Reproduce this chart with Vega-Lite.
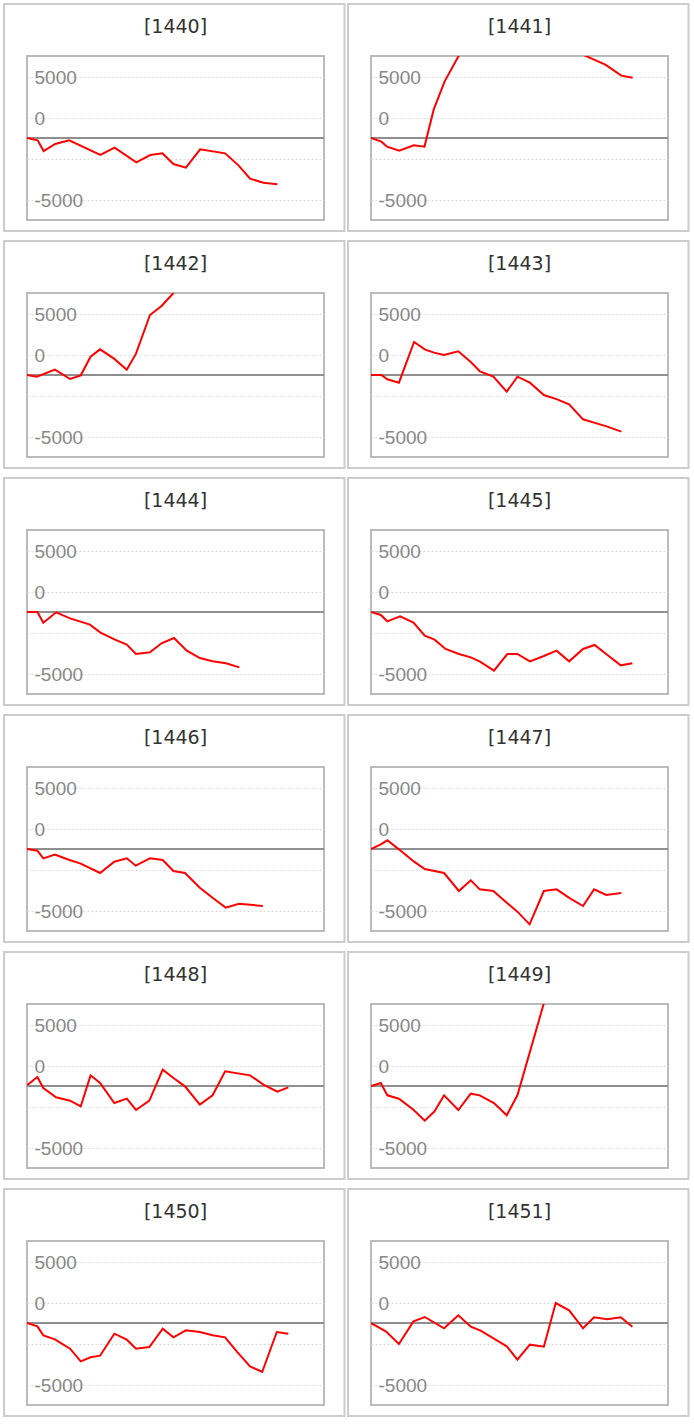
{
  "$schema": "https://vega.github.io/schema/vega-lite/v6.json",
  "background": "white",
  "padding": {"left": 2, "top": 2, "right": 3, "bottom": 3},
  "data": {
    "values": [
      {"id": "[1440]", "t": 0, "v": 0}, {"id": "[1440]", "t": 3.6, "v": -285}, {"id": "[1440]", "t": 5.6, "v": -1585},
      {"id": "[1440]", "t": 9.5, "v": -732}, {"id": "[1440]", "t": 14.2, "v": -285}, {"id": "[1440]", "t": 24.7, "v": -2073},
      {"id": "[1440]", "t": 29.5, "v": -1179}, {"id": "[1440]", "t": 36.8, "v": -2967}, {"id": "[1440]", "t": 41.5, "v": -2073},
      {"id": "[1440]", "t": 45.6, "v": -1870}, {"id": "[1440]", "t": 49.3, "v": -3171}, {"id": "[1440]", "t": 53.5, "v": -3618},
      {"id": "[1440]", "t": 58.3, "v": -1382}, {"id": "[1440]", "t": 66.7, "v": -1870}, {"id": "[1440]", "t": 71.2, "v": -3333},
      {"id": "[1440]", "t": 75.1, "v": -4959}, {"id": "[1440]", "t": 79.6, "v": -5447}, {"id": "[1440]", "t": 84.3, "v": -5650},

      {"id": "[1441]", "t": 0, "v": 0}, {"id": "[1441]", "t": 3.5, "v": -447}, {"id": "[1441]", "t": 5.4, "v": -1057},
      {"id": "[1441]", "t": 9.5, "v": -1545}, {"id": "[1441]", "t": 14.4, "v": -894}, {"id": "[1441]", "t": 18, "v": -1057},
      {"id": "[1441]", "t": 21.1, "v": 3455}, {"id": "[1441]", "t": 24.8, "v": 6911}, {"id": "[1441]", "t": 33, "v": 12300},
      {"id": "[1441]", "t": 40, "v": 15500}, {"id": "[1441]", "t": 47, "v": 17800}, {"id": "[1441]", "t": 55, "v": 18600},
      {"id": "[1441]", "t": 62, "v": 16500}, {"id": "[1441]", "t": 68, "v": 10700}, {"id": "[1441]", "t": 78.9, "v": 8943},
      {"id": "[1441]", "t": 84.3, "v": 7602}, {"id": "[1441]", "t": 88.1, "v": 7358},

      {"id": "[1442]", "t": 0, "v": 0}, {"id": "[1442]", "t": 3.3, "v": -203}, {"id": "[1442]", "t": 9.4, "v": 650},
      {"id": "[1442]", "t": 14.5, "v": -488}, {"id": "[1442]", "t": 18.1, "v": -40}, {"id": "[1442]", "t": 21.4, "v": 2236},
      {"id": "[1442]", "t": 24.6, "v": 3130}, {"id": "[1442]", "t": 29.3, "v": 1992}, {"id": "[1442]", "t": 33.6, "v": 650},
      {"id": "[1442]", "t": 36.7, "v": 2602}, {"id": "[1442]", "t": 41.4, "v": 7317}, {"id": "[1442]", "t": 45.3, "v": 8415},
      {"id": "[1442]", "t": 48.7, "v": 9756}, {"id": "[1442]", "t": 53, "v": 11500}, {"id": "[1442]", "t": 60, "v": 13500},
      {"id": "[1442]", "t": 66, "v": 14500},

      {"id": "[1443]", "t": 0, "v": 0}, {"id": "[1443]", "t": 3.5, "v": 0}, {"id": "[1443]", "t": 5.5, "v": -528},
      {"id": "[1443]", "t": 9.4, "v": -935}, {"id": "[1443]", "t": 14.5, "v": 4024}, {"id": "[1443]", "t": 18.1, "v": 3130},
      {"id": "[1443]", "t": 21.2, "v": 2724}, {"id": "[1443]", "t": 24.6, "v": 2439}, {"id": "[1443]", "t": 29.4, "v": 2886},
      {"id": "[1443]", "t": 33.6, "v": 1585}, {"id": "[1443]", "t": 36.7, "v": 447}, {"id": "[1443]", "t": 41.2, "v": -203},
      {"id": "[1443]", "t": 45.7, "v": -2033}, {"id": "[1443]", "t": 49.3, "v": -203}, {"id": "[1443]", "t": 53.5, "v": -935},
      {"id": "[1443]", "t": 58.2, "v": -2439}, {"id": "[1443]", "t": 62.7, "v": -2967}, {"id": "[1443]", "t": 66.7, "v": -3577},
      {"id": "[1443]", "t": 71.4, "v": -5406}, {"id": "[1443]", "t": 75.1, "v": -5813}, {"id": "[1443]", "t": 79.6, "v": -6300},
      {"id": "[1443]", "t": 84.3, "v": -6911},

      {"id": "[1444]", "t": 0, "v": 0}, {"id": "[1444]", "t": 3.5, "v": 0}, {"id": "[1444]", "t": 5.5, "v": -1301},
      {"id": "[1444]", "t": 9.8, "v": -41}, {"id": "[1444]", "t": 14.5, "v": -772}, {"id": "[1444]", "t": 21.2, "v": -1545},
      {"id": "[1444]", "t": 24.6, "v": -2480}, {"id": "[1444]", "t": 29.6, "v": -3374}, {"id": "[1444]", "t": 33.6, "v": -3984},
      {"id": "[1444]", "t": 36.7, "v": -5122}, {"id": "[1444]", "t": 41.4, "v": -4919}, {"id": "[1444]", "t": 45.3, "v": -3821},
      {"id": "[1444]", "t": 49.5, "v": -3171}, {"id": "[1444]", "t": 53.8, "v": -4715}, {"id": "[1444]", "t": 58.2, "v": -5610},
      {"id": "[1444]", "t": 62.5, "v": -6016}, {"id": "[1444]", "t": 67, "v": -6260}, {"id": "[1444]", "t": 71.5, "v": -6748},

      {"id": "[1445]", "t": 0, "v": 0}, {"id": "[1445]", "t": 3.3, "v": -366}, {"id": "[1445]", "t": 5.5, "v": -1138},
      {"id": "[1445]", "t": 9.8, "v": -528}, {"id": "[1445]", "t": 14.3, "v": -1301}, {"id": "[1445]", "t": 18.1, "v": -2886},
      {"id": "[1445]", "t": 21.4, "v": -3374}, {"id": "[1445]", "t": 25.1, "v": -4512}, {"id": "[1445]", "t": 29.6, "v": -5122},
      {"id": "[1445]", "t": 33.6, "v": -5528}, {"id": "[1445]", "t": 36.7, "v": -6057}, {"id": "[1445]", "t": 41.4, "v": -7154},
      {"id": "[1445]", "t": 45.9, "v": -5122}, {"id": "[1445]", "t": 49.3, "v": -5122}, {"id": "[1445]", "t": 53.5, "v": -6016},
      {"id": "[1445]", "t": 58.2, "v": -5366}, {"id": "[1445]", "t": 62.5, "v": -4715}, {"id": "[1445]", "t": 66.7, "v": -6016},
      {"id": "[1445]", "t": 71.4, "v": -4512}, {"id": "[1445]", "t": 75.3, "v": -4024}, {"id": "[1445]", "t": 79.6, "v": -5244},
      {"id": "[1445]", "t": 84.1, "v": -6504}, {"id": "[1445]", "t": 88, "v": -6260},

      {"id": "[1446]", "t": 0, "v": 0}, {"id": "[1446]", "t": 3.5, "v": -203}, {"id": "[1446]", "t": 5.5, "v": -1138},
      {"id": "[1446]", "t": 9.4, "v": -691}, {"id": "[1446]", "t": 14.3, "v": -1341}, {"id": "[1446]", "t": 18.1, "v": -1789},
      {"id": "[1446]", "t": 24.6, "v": -2927}, {"id": "[1446]", "t": 29.4, "v": -1545}, {"id": "[1446]", "t": 33.6, "v": -1138},
      {"id": "[1446]", "t": 36.6, "v": -2033}, {"id": "[1446]", "t": 41.4, "v": -1138}, {"id": "[1446]", "t": 45.7, "v": -1341},
      {"id": "[1446]", "t": 49.3, "v": -2683}, {"id": "[1446]", "t": 53.2, "v": -2927}, {"id": "[1446]", "t": 58.2, "v": -4715},
      {"id": "[1446]", "t": 62.7, "v": -6016}, {"id": "[1446]", "t": 66.9, "v": -7154}, {"id": "[1446]", "t": 71.4, "v": -6667},
      {"id": "[1446]", "t": 79.4, "v": -6951},

      {"id": "[1447]", "t": 0, "v": 0}, {"id": "[1447]", "t": 3.3, "v": 569}, {"id": "[1447]", "t": 5.5, "v": 1057},
      {"id": "[1447]", "t": 9.4, "v": -41}, {"id": "[1447]", "t": 14.5, "v": -1545}, {"id": "[1447]", "t": 18.1, "v": -2439},
      {"id": "[1447]", "t": 24.6, "v": -2927}, {"id": "[1447]", "t": 29.6, "v": -5122}, {"id": "[1447]", "t": 33.6, "v": -3821},
      {"id": "[1447]", "t": 36.6, "v": -4919}, {"id": "[1447]", "t": 41.2, "v": -5122}, {"id": "[1447]", "t": 45.7, "v": -6545},
      {"id": "[1447]", "t": 49.3, "v": -7642}, {"id": "[1447]", "t": 53.4, "v": -9187}, {"id": "[1447]", "t": 58.2, "v": -5122},
      {"id": "[1447]", "t": 62.5, "v": -4919}, {"id": "[1447]", "t": 67, "v": -6016}, {"id": "[1447]", "t": 71.4, "v": -6951},
      {"id": "[1447]", "t": 75.1, "v": -4919}, {"id": "[1447]", "t": 79.2, "v": -5610}, {"id": "[1447]", "t": 84.3, "v": -5366},

      {"id": "[1448]", "t": 0, "v": 100}, {"id": "[1448]", "t": 3.5, "v": 1098}, {"id": "[1448]", "t": 5.5, "v": -244},
      {"id": "[1448]", "t": 9.8, "v": -1382}, {"id": "[1448]", "t": 14.5, "v": -1789}, {"id": "[1448]", "t": 18.1, "v": -2480},
      {"id": "[1448]", "t": 21.4, "v": 1301}, {"id": "[1448]", "t": 24.6, "v": 366}, {"id": "[1448]", "t": 29.4, "v": -2073},
      {"id": "[1448]", "t": 33.6, "v": -1545}, {"id": "[1448]", "t": 36.7, "v": -2927}, {"id": "[1448]", "t": 41.2, "v": -1789},
      {"id": "[1448]", "t": 45.7, "v": 1992}, {"id": "[1448]", "t": 49.3, "v": 976}, {"id": "[1448]", "t": 53.2, "v": -41},
      {"id": "[1448]", "t": 58.2, "v": -2276}, {"id": "[1448]", "t": 62.5, "v": -1138}, {"id": "[1448]", "t": 66.7, "v": 1789},
      {"id": "[1448]", "t": 75.1, "v": 1301}, {"id": "[1448]", "t": 79.6, "v": 163}, {"id": "[1448]", "t": 84.3, "v": -691},
      {"id": "[1448]", "t": 88, "v": -163},

      {"id": "[1449]", "t": 0, "v": 0}, {"id": "[1449]", "t": 3.3, "v": 366}, {"id": "[1449]", "t": 5.5, "v": -1138},
      {"id": "[1449]", "t": 9.4, "v": -1545}, {"id": "[1449]", "t": 14.3, "v": -2886}, {"id": "[1449]", "t": 18.1, "v": -4228},
      {"id": "[1449]", "t": 21.4, "v": -3089}, {"id": "[1449]", "t": 24.6, "v": -1138}, {"id": "[1449]", "t": 29.4, "v": -2927},
      {"id": "[1449]", "t": 33.6, "v": -935}, {"id": "[1449]", "t": 36.6, "v": -1138}, {"id": "[1449]", "t": 41.4, "v": -2073},
      {"id": "[1449]", "t": 45.7, "v": -3577}, {"id": "[1449]", "t": 49.3, "v": -1138}, {"id": "[1449]", "t": 58, "v": 9837},
      {"id": "[1449]", "t": 61, "v": 13500}, {"id": "[1449]", "t": 65, "v": 16000},

      {"id": "[1450]", "t": 0, "v": 0}, {"id": "[1450]", "t": 3.5, "v": -407}, {"id": "[1450]", "t": 5.5, "v": -1504},
      {"id": "[1450]", "t": 9.4, "v": -1992}, {"id": "[1450]", "t": 14.5, "v": -3130}, {"id": "[1450]", "t": 18.1, "v": -4675},
      {"id": "[1450]", "t": 21.4, "v": -4187}, {"id": "[1450]", "t": 24.6, "v": -3984}, {"id": "[1450]", "t": 29.4, "v": -1301},
      {"id": "[1450]", "t": 33.6, "v": -2033}, {"id": "[1450]", "t": 36.7, "v": -3130}, {"id": "[1450]", "t": 41.2, "v": -2927},
      {"id": "[1450]", "t": 45.7, "v": -691}, {"id": "[1450]", "t": 49.3, "v": -1748}, {"id": "[1450]", "t": 53.5, "v": -894},
      {"id": "[1450]", "t": 58.2, "v": -1098}, {"id": "[1450]", "t": 62.5, "v": -1504}, {"id": "[1450]", "t": 66.7, "v": -1748},
      {"id": "[1450]", "t": 70.6, "v": -3455}, {"id": "[1450]", "t": 75.1, "v": -5285}, {"id": "[1450]", "t": 79.2, "v": -5976},
      {"id": "[1450]", "t": 84.1, "v": -1098}, {"id": "[1450]", "t": 88, "v": -1301},

      {"id": "[1451]", "t": 0, "v": 0}, {"id": "[1451]", "t": 5, "v": -1016}, {"id": "[1451]", "t": 9.4, "v": -2561},
      {"id": "[1451]", "t": 14.3, "v": 203}, {"id": "[1451]", "t": 18.1, "v": 732}, {"id": "[1451]", "t": 24.6, "v": -650},
      {"id": "[1451]", "t": 29.4, "v": 935}, {"id": "[1451]", "t": 33.6, "v": -447}, {"id": "[1451]", "t": 36.9, "v": -935},
      {"id": "[1451]", "t": 41.4, "v": -1911}, {"id": "[1451]", "t": 45.7, "v": -2846}, {"id": "[1451]", "t": 49.3, "v": -4472},
      {"id": "[1451]", "t": 53.5, "v": -2642}, {"id": "[1451]", "t": 58.2, "v": -2886}, {"id": "[1451]", "t": 62.2, "v": 2439},
      {"id": "[1451]", "t": 66.7, "v": 1545}, {"id": "[1451]", "t": 71.4, "v": -650}, {"id": "[1451]", "t": 75.1, "v": 691},
      {"id": "[1451]", "t": 79.6, "v": 447}, {"id": "[1451]", "t": 84.1, "v": 691}, {"id": "[1451]", "t": 88, "v": -447}
    ]
  },
  "columns": 2,
  "bounds": "flush",
  "spacing": {"row": 73, "column": 47},
  "concat": [
    {"transform": [{"filter": "datum.id == '[1440]'"}], "layer": [
      {"transform": [{"filter": "datum.t == 0"}], "mark": {"type": "rect", "filled": false, "stroke": "#cccccc", "strokeWidth": 2}, "encoding": {"x": {"datum": -7.74, "axis": null}, "x2": {"datum": 106.9}, "y": {"datum": -11341}, "y2": {"datum": 16341}}},
      {"transform": [{"filter": "datum.t == 0"}], "mark": {"type": "text", "font": "DejaVu Sans", "fontSize": 19, "color": "#333333", "align": "center", "baseline": "middle"}, "encoding": {"x": {"datum": 50, "axis": null}, "y": {"datum": 13540}, "text": {"field": "id"}}},
      {"transform": [{"filter": "datum.t == 0"}], "mark": {"type": "rule", "color": "#8f8f8f", "strokeWidth": 2}, "encoding": {"y": {"datum": 0}}},
      {"mark": {"type": "line", "color": "#ff0000", "strokeWidth": 2, "clip": true}, "encoding": {"x": {"field": "t", "type": "quantitative", "scale": {"domain": [0, 100], "nice": false, "zero": false}, "axis": null}, "y": {"field": "v", "type": "quantitative", "scale": {"domain": [-10000, 10000], "nice": false}, "axis": {"title": null, "values": [-7500, -5000, -2500, 0, 2500, 5000, 7500], "labelExpr": "datum.value == 7500 ? '5000' : datum.value == 2500 ? '0' : datum.value == -7500 ? '-5000' : ''"}}}}
    ]},
    {"transform": [{"filter": "datum.id == '[1441]'"}], "layer": [
      {"transform": [{"filter": "datum.t == 0"}], "mark": {"type": "rect", "filled": false, "stroke": "#cccccc", "strokeWidth": 2}, "encoding": {"x": {"datum": -7.74, "axis": null}, "x2": {"datum": 106.9}, "y": {"datum": -11341}, "y2": {"datum": 16341}}},
      {"transform": [{"filter": "datum.t == 0"}], "mark": {"type": "text", "font": "DejaVu Sans", "fontSize": 19, "color": "#333333", "align": "center", "baseline": "middle"}, "encoding": {"x": {"datum": 50, "axis": null}, "y": {"datum": 13540}, "text": {"field": "id"}}},
      {"transform": [{"filter": "datum.t == 0"}], "mark": {"type": "rule", "color": "#8f8f8f", "strokeWidth": 2}, "encoding": {"y": {"datum": 0}}},
      {"mark": {"type": "line", "color": "#ff0000", "strokeWidth": 2, "clip": true}, "encoding": {"x": {"field": "t", "type": "quantitative", "scale": {"domain": [0, 100], "nice": false, "zero": false}, "axis": null}, "y": {"field": "v", "type": "quantitative", "scale": {"domain": [-10000, 10000], "nice": false}, "axis": {"title": null, "values": [-7500, -5000, -2500, 0, 2500, 5000, 7500], "labelExpr": "datum.value == 7500 ? '5000' : datum.value == 2500 ? '0' : datum.value == -7500 ? '-5000' : ''"}}}}
    ]},
    {"transform": [{"filter": "datum.id == '[1442]'"}], "layer": [
      {"transform": [{"filter": "datum.t == 0"}], "mark": {"type": "rect", "filled": false, "stroke": "#cccccc", "strokeWidth": 2}, "encoding": {"x": {"datum": -7.74, "axis": null}, "x2": {"datum": 106.9}, "y": {"datum": -11341}, "y2": {"datum": 16341}}},
      {"transform": [{"filter": "datum.t == 0"}], "mark": {"type": "text", "font": "DejaVu Sans", "fontSize": 19, "color": "#333333", "align": "center", "baseline": "middle"}, "encoding": {"x": {"datum": 50, "axis": null}, "y": {"datum": 13540}, "text": {"field": "id"}}},
      {"transform": [{"filter": "datum.t == 0"}], "mark": {"type": "rule", "color": "#8f8f8f", "strokeWidth": 2}, "encoding": {"y": {"datum": 0}}},
      {"mark": {"type": "line", "color": "#ff0000", "strokeWidth": 2, "clip": true}, "encoding": {"x": {"field": "t", "type": "quantitative", "scale": {"domain": [0, 100], "nice": false, "zero": false}, "axis": null}, "y": {"field": "v", "type": "quantitative", "scale": {"domain": [-10000, 10000], "nice": false}, "axis": {"title": null, "values": [-7500, -5000, -2500, 0, 2500, 5000, 7500], "labelExpr": "datum.value == 7500 ? '5000' : datum.value == 2500 ? '0' : datum.value == -7500 ? '-5000' : ''"}}}}
    ]},
    {"transform": [{"filter": "datum.id == '[1443]'"}], "layer": [
      {"transform": [{"filter": "datum.t == 0"}], "mark": {"type": "rect", "filled": false, "stroke": "#cccccc", "strokeWidth": 2}, "encoding": {"x": {"datum": -7.74, "axis": null}, "x2": {"datum": 106.9}, "y": {"datum": -11341}, "y2": {"datum": 16341}}},
      {"transform": [{"filter": "datum.t == 0"}], "mark": {"type": "text", "font": "DejaVu Sans", "fontSize": 19, "color": "#333333", "align": "center", "baseline": "middle"}, "encoding": {"x": {"datum": 50, "axis": null}, "y": {"datum": 13540}, "text": {"field": "id"}}},
      {"transform": [{"filter": "datum.t == 0"}], "mark": {"type": "rule", "color": "#8f8f8f", "strokeWidth": 2}, "encoding": {"y": {"datum": 0}}},
      {"mark": {"type": "line", "color": "#ff0000", "strokeWidth": 2, "clip": true}, "encoding": {"x": {"field": "t", "type": "quantitative", "scale": {"domain": [0, 100], "nice": false, "zero": false}, "axis": null}, "y": {"field": "v", "type": "quantitative", "scale": {"domain": [-10000, 10000], "nice": false}, "axis": {"title": null, "values": [-7500, -5000, -2500, 0, 2500, 5000, 7500], "labelExpr": "datum.value == 7500 ? '5000' : datum.value == 2500 ? '0' : datum.value == -7500 ? '-5000' : ''"}}}}
    ]},
    {"transform": [{"filter": "datum.id == '[1444]'"}], "layer": [
      {"transform": [{"filter": "datum.t == 0"}], "mark": {"type": "rect", "filled": false, "stroke": "#cccccc", "strokeWidth": 2}, "encoding": {"x": {"datum": -7.74, "axis": null}, "x2": {"datum": 106.9}, "y": {"datum": -11341}, "y2": {"datum": 16341}}},
      {"transform": [{"filter": "datum.t == 0"}], "mark": {"type": "text", "font": "DejaVu Sans", "fontSize": 19, "color": "#333333", "align": "center", "baseline": "middle"}, "encoding": {"x": {"datum": 50, "axis": null}, "y": {"datum": 13540}, "text": {"field": "id"}}},
      {"transform": [{"filter": "datum.t == 0"}], "mark": {"type": "rule", "color": "#8f8f8f", "strokeWidth": 2}, "encoding": {"y": {"datum": 0}}},
      {"mark": {"type": "line", "color": "#ff0000", "strokeWidth": 2, "clip": true}, "encoding": {"x": {"field": "t", "type": "quantitative", "scale": {"domain": [0, 100], "nice": false, "zero": false}, "axis": null}, "y": {"field": "v", "type": "quantitative", "scale": {"domain": [-10000, 10000], "nice": false}, "axis": {"title": null, "values": [-7500, -5000, -2500, 0, 2500, 5000, 7500], "labelExpr": "datum.value == 7500 ? '5000' : datum.value == 2500 ? '0' : datum.value == -7500 ? '-5000' : ''"}}}}
    ]},
    {"transform": [{"filter": "datum.id == '[1445]'"}], "layer": [
      {"transform": [{"filter": "datum.t == 0"}], "mark": {"type": "rect", "filled": false, "stroke": "#cccccc", "strokeWidth": 2}, "encoding": {"x": {"datum": -7.74, "axis": null}, "x2": {"datum": 106.9}, "y": {"datum": -11341}, "y2": {"datum": 16341}}},
      {"transform": [{"filter": "datum.t == 0"}], "mark": {"type": "text", "font": "DejaVu Sans", "fontSize": 19, "color": "#333333", "align": "center", "baseline": "middle"}, "encoding": {"x": {"datum": 50, "axis": null}, "y": {"datum": 13540}, "text": {"field": "id"}}},
      {"transform": [{"filter": "datum.t == 0"}], "mark": {"type": "rule", "color": "#8f8f8f", "strokeWidth": 2}, "encoding": {"y": {"datum": 0}}},
      {"mark": {"type": "line", "color": "#ff0000", "strokeWidth": 2, "clip": true}, "encoding": {"x": {"field": "t", "type": "quantitative", "scale": {"domain": [0, 100], "nice": false, "zero": false}, "axis": null}, "y": {"field": "v", "type": "quantitative", "scale": {"domain": [-10000, 10000], "nice": false}, "axis": {"title": null, "values": [-7500, -5000, -2500, 0, 2500, 5000, 7500], "labelExpr": "datum.value == 7500 ? '5000' : datum.value == 2500 ? '0' : datum.value == -7500 ? '-5000' : ''"}}}}
    ]},
    {"transform": [{"filter": "datum.id == '[1446]'"}], "layer": [
      {"transform": [{"filter": "datum.t == 0"}], "mark": {"type": "rect", "filled": false, "stroke": "#cccccc", "strokeWidth": 2}, "encoding": {"x": {"datum": -7.74, "axis": null}, "x2": {"datum": 106.9}, "y": {"datum": -11341}, "y2": {"datum": 16341}}},
      {"transform": [{"filter": "datum.t == 0"}], "mark": {"type": "text", "font": "DejaVu Sans", "fontSize": 19, "color": "#333333", "align": "center", "baseline": "middle"}, "encoding": {"x": {"datum": 50, "axis": null}, "y": {"datum": 13540}, "text": {"field": "id"}}},
      {"transform": [{"filter": "datum.t == 0"}], "mark": {"type": "rule", "color": "#8f8f8f", "strokeWidth": 2}, "encoding": {"y": {"datum": 0}}},
      {"mark": {"type": "line", "color": "#ff0000", "strokeWidth": 2, "clip": true}, "encoding": {"x": {"field": "t", "type": "quantitative", "scale": {"domain": [0, 100], "nice": false, "zero": false}, "axis": null}, "y": {"field": "v", "type": "quantitative", "scale": {"domain": [-10000, 10000], "nice": false}, "axis": {"title": null, "values": [-7500, -5000, -2500, 0, 2500, 5000, 7500], "labelExpr": "datum.value == 7500 ? '5000' : datum.value == 2500 ? '0' : datum.value == -7500 ? '-5000' : ''"}}}}
    ]},
    {"transform": [{"filter": "datum.id == '[1447]'"}], "layer": [
      {"transform": [{"filter": "datum.t == 0"}], "mark": {"type": "rect", "filled": false, "stroke": "#cccccc", "strokeWidth": 2}, "encoding": {"x": {"datum": -7.74, "axis": null}, "x2": {"datum": 106.9}, "y": {"datum": -11341}, "y2": {"datum": 16341}}},
      {"transform": [{"filter": "datum.t == 0"}], "mark": {"type": "text", "font": "DejaVu Sans", "fontSize": 19, "color": "#333333", "align": "center", "baseline": "middle"}, "encoding": {"x": {"datum": 50, "axis": null}, "y": {"datum": 13540}, "text": {"field": "id"}}},
      {"transform": [{"filter": "datum.t == 0"}], "mark": {"type": "rule", "color": "#8f8f8f", "strokeWidth": 2}, "encoding": {"y": {"datum": 0}}},
      {"mark": {"type": "line", "color": "#ff0000", "strokeWidth": 2, "clip": true}, "encoding": {"x": {"field": "t", "type": "quantitative", "scale": {"domain": [0, 100], "nice": false, "zero": false}, "axis": null}, "y": {"field": "v", "type": "quantitative", "scale": {"domain": [-10000, 10000], "nice": false}, "axis": {"title": null, "values": [-7500, -5000, -2500, 0, 2500, 5000, 7500], "labelExpr": "datum.value == 7500 ? '5000' : datum.value == 2500 ? '0' : datum.value == -7500 ? '-5000' : ''"}}}}
    ]},
    {"transform": [{"filter": "datum.id == '[1448]'"}], "layer": [
      {"transform": [{"filter": "datum.t == 0"}], "mark": {"type": "rect", "filled": false, "stroke": "#cccccc", "strokeWidth": 2}, "encoding": {"x": {"datum": -7.74, "axis": null}, "x2": {"datum": 106.9}, "y": {"datum": -11341}, "y2": {"datum": 16341}}},
      {"transform": [{"filter": "datum.t == 0"}], "mark": {"type": "text", "font": "DejaVu Sans", "fontSize": 19, "color": "#333333", "align": "center", "baseline": "middle"}, "encoding": {"x": {"datum": 50, "axis": null}, "y": {"datum": 13540}, "text": {"field": "id"}}},
      {"transform": [{"filter": "datum.t == 0"}], "mark": {"type": "rule", "color": "#8f8f8f", "strokeWidth": 2}, "encoding": {"y": {"datum": 0}}},
      {"mark": {"type": "line", "color": "#ff0000", "strokeWidth": 2, "clip": true}, "encoding": {"x": {"field": "t", "type": "quantitative", "scale": {"domain": [0, 100], "nice": false, "zero": false}, "axis": null}, "y": {"field": "v", "type": "quantitative", "scale": {"domain": [-10000, 10000], "nice": false}, "axis": {"title": null, "values": [-7500, -5000, -2500, 0, 2500, 5000, 7500], "labelExpr": "datum.value == 7500 ? '5000' : datum.value == 2500 ? '0' : datum.value == -7500 ? '-5000' : ''"}}}}
    ]},
    {"transform": [{"filter": "datum.id == '[1449]'"}], "layer": [
      {"transform": [{"filter": "datum.t == 0"}], "mark": {"type": "rect", "filled": false, "stroke": "#cccccc", "strokeWidth": 2}, "encoding": {"x": {"datum": -7.74, "axis": null}, "x2": {"datum": 106.9}, "y": {"datum": -11341}, "y2": {"datum": 16341}}},
      {"transform": [{"filter": "datum.t == 0"}], "mark": {"type": "text", "font": "DejaVu Sans", "fontSize": 19, "color": "#333333", "align": "center", "baseline": "middle"}, "encoding": {"x": {"datum": 50, "axis": null}, "y": {"datum": 13540}, "text": {"field": "id"}}},
      {"transform": [{"filter": "datum.t == 0"}], "mark": {"type": "rule", "color": "#8f8f8f", "strokeWidth": 2}, "encoding": {"y": {"datum": 0}}},
      {"mark": {"type": "line", "color": "#ff0000", "strokeWidth": 2, "clip": true}, "encoding": {"x": {"field": "t", "type": "quantitative", "scale": {"domain": [0, 100], "nice": false, "zero": false}, "axis": null}, "y": {"field": "v", "type": "quantitative", "scale": {"domain": [-10000, 10000], "nice": false}, "axis": {"title": null, "values": [-7500, -5000, -2500, 0, 2500, 5000, 7500], "labelExpr": "datum.value == 7500 ? '5000' : datum.value == 2500 ? '0' : datum.value == -7500 ? '-5000' : ''"}}}}
    ]},
    {"transform": [{"filter": "datum.id == '[1450]'"}], "layer": [
      {"transform": [{"filter": "datum.t == 0"}], "mark": {"type": "rect", "filled": false, "stroke": "#cccccc", "strokeWidth": 2}, "encoding": {"x": {"datum": -7.74, "axis": null}, "x2": {"datum": 106.9}, "y": {"datum": -11341}, "y2": {"datum": 16341}}},
      {"transform": [{"filter": "datum.t == 0"}], "mark": {"type": "text", "font": "DejaVu Sans", "fontSize": 19, "color": "#333333", "align": "center", "baseline": "middle"}, "encoding": {"x": {"datum": 50, "axis": null}, "y": {"datum": 13540}, "text": {"field": "id"}}},
      {"transform": [{"filter": "datum.t == 0"}], "mark": {"type": "rule", "color": "#8f8f8f", "strokeWidth": 2}, "encoding": {"y": {"datum": 0}}},
      {"mark": {"type": "line", "color": "#ff0000", "strokeWidth": 2, "clip": true}, "encoding": {"x": {"field": "t", "type": "quantitative", "scale": {"domain": [0, 100], "nice": false, "zero": false}, "axis": null}, "y": {"field": "v", "type": "quantitative", "scale": {"domain": [-10000, 10000], "nice": false}, "axis": {"title": null, "values": [-7500, -5000, -2500, 0, 2500, 5000, 7500], "labelExpr": "datum.value == 7500 ? '5000' : datum.value == 2500 ? '0' : datum.value == -7500 ? '-5000' : ''"}}}}
    ]},
    {"transform": [{"filter": "datum.id == '[1451]'"}], "layer": [
      {"transform": [{"filter": "datum.t == 0"}], "mark": {"type": "rect", "filled": false, "stroke": "#cccccc", "strokeWidth": 2}, "encoding": {"x": {"datum": -7.74, "axis": null}, "x2": {"datum": 106.9}, "y": {"datum": -11341}, "y2": {"datum": 16341}}},
      {"transform": [{"filter": "datum.t == 0"}], "mark": {"type": "text", "font": "DejaVu Sans", "fontSize": 19, "color": "#333333", "align": "center", "baseline": "middle"}, "encoding": {"x": {"datum": 50, "axis": null}, "y": {"datum": 13540}, "text": {"field": "id"}}},
      {"transform": [{"filter": "datum.t == 0"}], "mark": {"type": "rule", "color": "#8f8f8f", "strokeWidth": 2}, "encoding": {"y": {"datum": 0}}},
      {"mark": {"type": "line", "color": "#ff0000", "strokeWidth": 2, "clip": true}, "encoding": {"x": {"field": "t", "type": "quantitative", "scale": {"domain": [0, 100], "nice": false, "zero": false}, "axis": null}, "y": {"field": "v", "type": "quantitative", "scale": {"domain": [-10000, 10000], "nice": false}, "axis": {"title": null, "values": [-7500, -5000, -2500, 0, 2500, 5000, 7500], "labelExpr": "datum.value == 7500 ? '5000' : datum.value == 2500 ? '0' : datum.value == -7500 ? '-5000' : ''"}}}}
    ]}
  ],
  "config": {
    "view": {"continuousWidth": 297, "continuousHeight": 164, "stroke": "#bbbbbb", "strokeWidth": 2},
    "axisY": {
      "domain": false,
      "ticks": false,
      "tickSize": 0,
      "labelPadding": -7,
      "labelAlign": "left",
      "labelBaseline": "middle",
      "labelOffset": 1,
      "labelFont": "Liberation Sans",
      "labelFontSize": 19,
      "labelColor": "#888888",
      "labelOverlap": false,
      "labelFlush": false,
      "grid": true,
      "gridColor": "#dddddd",
      "gridDash": [2, 2],
      "gridWidth": 1
    }
  }
}
